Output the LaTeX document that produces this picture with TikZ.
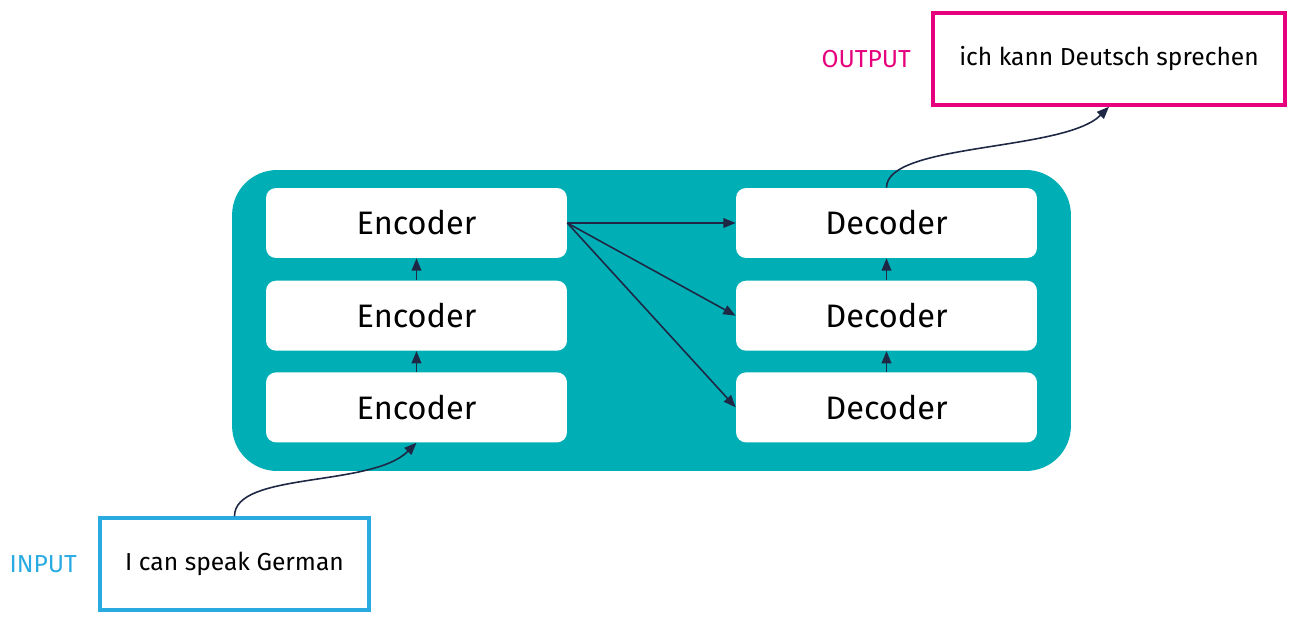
\documentclass[tikz,border=0pt]{standalone}
\usepackage{fontspec}
\setmainfont{Fira Sans}
\usetikzlibrary{arrows.meta, positioning}
\definecolor{modelteal}{RGB}{0,175,181}
\definecolor{inblue}{RGB}{41,171,226}
\definecolor{outpink}{RGB}{230,0,126}
\definecolor{navy}{RGB}{30,39,68}
\tikzset{
  model/.style={
    rectangle, rounded corners=0.9cm, minimum width=16.78cm, minimum height=6.02cm,
    fill=modelteal
  },
  layer/.style={
    rectangle, rounded corners=0.2cm, minimum width=6.02cm, minimum height=1.4cm,
    text centered, fill=white, font=\fontsize{18.5}{20}\selectfont
  },
  sentence/.style={
    rectangle, minimum height=1.84cm, line width=2pt,
    text centered, fill=white, font=\fontsize{14}{16}\selectfont
  },
  tag/.style={
    inner sep=0pt, font=\fontsize{14}{16}\selectfont
  },
  arrow/.style={
    -{Triangle[length=7pt,width=5.5pt]}, line width=0.9pt, color=navy
  }
}

\begin{document}
\begin{tikzpicture}[x=0.02cm, y=-0.02cm]
\useasboundingbox (0,0) rectangle (1298,625);

% Modell
\node (model) [model] at (651.5,320.5) {};

% Encoder (untereinander)
\node (enc1) [layer] at (416.5,223) {Encoder};
\node (enc2) [layer, below=0.44cm of enc1] {Encoder};
\node (enc3) [layer, below=0.42cm of enc2] {Encoder};

% Decoder (rechts daneben)
\node (dec1) [layer] at (886.5,223) {Decoder};
\node (dec2) [layer, below=0.44cm of dec1] {Decoder};
\node (dec3) [layer, below=0.42cm of dec2] {Decoder};

% Eingabe und Ausgabe
\node (input) [sentence, draw=inblue, minimum width=5.38cm] at (234.5,564) {I can speak German};
\node (output) [sentence, draw=outpink, minimum width=7.04cm] at (1109,59) {ich kann Deutsch sprechen};
\node (input_tag) [tag, text=inblue, left=0.42cm of input] {INPUT};
\node (output_tag) [tag, text=outpink, left=0.4cm of output] {OUTPUT};

% Pfeile zwischen den Schichten
\draw [arrow] (enc3) -- (enc2);
\draw [arrow] (enc2) -- (enc1);
\draw [arrow] (dec3) -- (dec2);
\draw [arrow] (dec2) -- (dec1);
\foreach \dec in {dec1, dec2, dec3} {
  \draw [arrow] (enc1.east) -- (\dec.west);
}

% Pfeile von der Eingabe / zur Ausgabe
\draw [arrow] (input.north) .. controls +(0,-45) and +(-45,45) .. (enc3.south);
\draw [arrow] (dec1.north) .. controls +(0,-45) and +(-45,45) .. (output.south);

\end{tikzpicture}
\end{document}
